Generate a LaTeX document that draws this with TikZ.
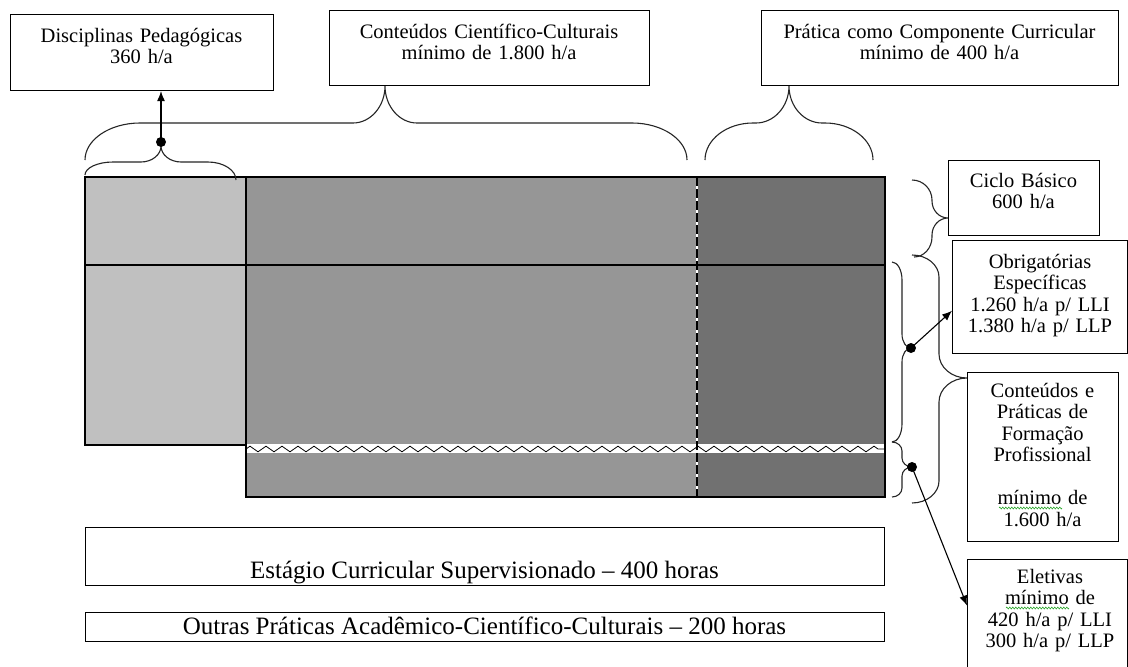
\documentclass[tikz,border=0pt]{standalone}
\usepackage{fontspec}
\setmainfont{Liberation Serif}
\usetikzlibrary{arrows.meta,decorations.pathmorphing,calc}
\definecolor{lightg}{HTML}{C0C0C0}
\definecolor{midg}{HTML}{969696}
\definecolor{darkg}{HTML}{717171}
\definecolor{squig}{HTML}{33AA33}
\newcommand\bxf{\fontsize{20.5}{21.5}\selectfont}
\newcommand\btf{\fontsize{25}{27}\selectfont}
% horizontal brace: xL,yL,xR,yR,yh,xt,yt,rE,rM
\newcommand\hbrc[9]{%
\draw[brc] (#1,#2) .. controls (#1,{#2+0.55*(#5-#2)}) and ({#1+0.45*#8},#5) .. ({#1+#8},#5)
 -- ({#6-#9},#5) .. controls ({#6-0.45*#9},#5) and (#6,{#7+0.55*(#5-#7)}) .. (#6,#7)
 .. controls (#6,{#7+0.55*(#5-#7)}) and ({#6+0.45*#9},#5) .. ({#6+#9},#5)
 -- ({#3-#8},#5) .. controls ({#3-0.45*#8},#5) and (#3,{#4+0.55*(#5-#4)}) .. (#3,#4);}
% vertical brace: yT,xT,yB,xB,xv,yt,xt,rE,rM
\newcommand\vbrc[9]{%
\draw[brc] (#2,#1) .. controls ({#2+0.55*(#5-#2)},#1) and (#5,{#1+0.45*#8}) .. (#5,{#1+#8})
 -- (#5,{#6-#9}) .. controls (#5,{#6-0.45*#9}) and ({#7+0.55*(#5-#7)},#6) .. (#7,#6)
 .. controls ({#7+0.55*(#5-#7)},#6) and (#5,{#6+0.45*#9}) .. (#5,{#6+#9})
 -- (#5,{#3-#8}) .. controls (#5,{#3-0.45*#8}) and ({#4+0.55*(#5-#4)},#3) .. (#4,#3);}
\begin{document}
\begin{tikzpicture}[x=1pt,y=-1pt,
 box/.style={draw, line width=1.1pt, fill=white, inner sep=0pt, anchor=north west},
 txt/.style={inner sep=0pt, align=center, text width=400pt, anchor=base, font=\bxf},
 btxt/.style={inner sep=0pt, anchor=base, font=\btf},
 brc/.style={draw=black!85, line width=1.1pt},
 arr/.style={line width=1.1pt, -{Latex[length=10pt,width=8pt]}},
 dot/.style={circle, fill=black, inner sep=0pt, minimum size=10pt},
 edge/.style={line width=1.1pt},
 wavy/.style={draw=squig, line width=0.6pt, decorate, decoration={zigzag, segment length=3pt, amplitude=1pt}}]
\useasboundingbox (0,0) rectangle (1128,667);
\clip (0,0) rectangle (1128,667);
\fill[white] (0,0) rectangle (1128,667);

% main blocks
\fill[lightg] (85,177) rectangle (246,445);
\fill[midg] (246,177) rectangle (697,497);
\fill[darkg] (697,177) rectangle (885,497);
\fill[white] (246,444) rectangle (885,453);
\draw[line width=0.8pt, decorate, decoration={zigzag, segment length=16pt, amplitude=2.8pt}] (246,449) -- (885,449);
\draw[white, line width=1.2pt] (697,177) -- (697,497);
\draw[line width=1.2pt, dash pattern=on 9pt off 3pt] (697,177) -- (697,497);
\draw[edge] (85,177) rectangle (246,445);
\draw[edge] (246,177) rectangle (885,497);
\draw[edge] (85,265) -- (885,265);

% braces
\hbrc{85}{175}{236}{180}{162}{161}{146}{28}{20}
\hbrc{85}{160}{687}{160}{123}{385}{86}{55}{32}
\hbrc{705}{160}{873}{160}{123}{789}{86}{48}{33}
\vbrc{180}{912}{257}{914}{932}{218}{948}{20}{17}
\vbrc{255}{912}{503}{912}{939}{378}{967}{22}{24}
\vbrc{262}{892}{442}{892}{902}{348}{911}{18}{14}
\vbrc{442}{892}{497}{892}{902}{467}{912}{9}{9}

% boxes
\node[box, minimum width=263pt, minimum height=76pt] (dp) at (10,14) {};
\node[box, minimum width=320pt, minimum height=75pt] (cc) at (329,10) {};
\node[box, minimum width=357pt, minimum height=75pt] (pc) at (761,10) {};
\node[box, minimum width=151pt, minimum height=75pt] (cb) at (948,160) {};
\node[box, minimum width=175pt, minimum height=113pt] (ob) at (952,240) {};
\node[box, minimum width=151pt, minimum height=169pt] (cp) at (967,372) {};
\node[box, minimum width=160pt, minimum height=140pt] (el) at (967,559) {};
\node[box, minimum width=799pt, minimum height=58pt] (es) at (85,527) {};
\node[box, minimum width=799pt, minimum height=29pt] (op) at (85,612) {};

% texts
\node[txt] (dpt) at (141.5,42) {Disciplinas Pedagógicas\\360 h/a};
\node[txt] (cct) at (489,38) {Conteúdos Científico-Culturais\\mínimo de 1.800 h/a};
\node[txt] (pct) at (939.5,38) {Prática como Componente Curricular\\mínimo de 400 h/a};
\node[txt] (cbt) at (1023.5,187) {Ciclo Básico\\600 h/a};
\node[txt] (obt) at (1040,268) {Obrigatórias\\Específicas\\1.260 h/a p/ LLI\\1.380 h/a p/ LLP};
\node[txt] (cpt) at (1042.5,397) {Conteúdos e\\Práticas de\\Formação\\Profissional\\\mbox{}\\mínimo de\\1.600 h/a};
\node[txt] (elt) at (1050,583) {Eletivas\\mínimo de\\420 h/a p/ LLI\\300 h/a p/ LLP};
\node[btxt] (est) at (484.5,578) {Estágio Curricular Supervisionado – 400 horas};
\node[btxt] (opt) at (484.5,634) {Outras Práticas Acadêmico-Científico-Culturais – 200 horas};

% spell-check squiggles
\draw[wavy] (999,508) -- (1062,508);
\draw[wavy] (1006,608) -- (1069,608);

% dots and arrows
\node[dot] (d1) at (161,142) {};
\node[dot] (d2) at (911,348) {};
\node[dot] (d3) at (912,467) {};
\draw[arr] (d1.center) -- (d1 |- dp.south);
\draw[arr] (d2.center) -- ($(ob.north west)!0.62!(ob.south west)$);
\draw[arr] (d3.center) -- ($(el.north west)!0.33!(el.south west)$);
\end{tikzpicture}
\end{document}
